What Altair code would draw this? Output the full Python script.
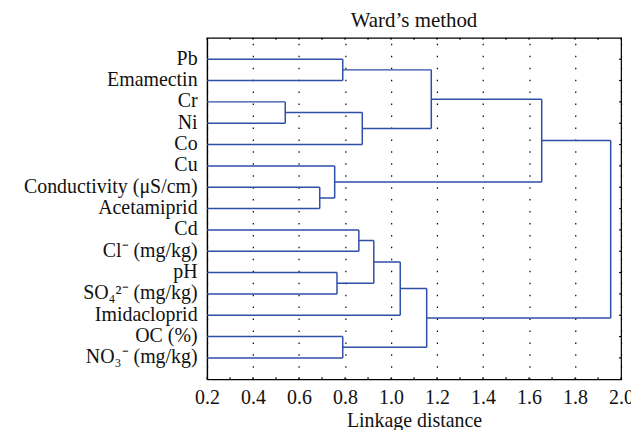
import altair as alt
import pandas as pd

# ---- data ----
leaves = ["Pb", "Emamectin", "Cr", "Ni", "Co", "Cu", "Conductivity (\u03bcS/cm)",
          "Acetamiprid", "Cd", "Cl\u207b (mg/kg)", "pH", "SO\u2084\u00b2\u207b (mg/kg)",
          "Imidacloprid", "OC (%)", "NO\u2083\u207b (mg/kg)"]
# merges: (left node, right node, linkage distance); leaves are 0..14, new clusters 15..
merge_left = [2, 6, 5, 10, 0, 13, 8, 15, 21, 23, 24, 19, 26, 27]
merge_right = [3, 7, 16, 11, 1, 14, 9, 4, 18, 12, 20, 22, 17, 25]
merge_height = [0.54, 0.69, 0.755, 0.765, 0.79, 0.79, 0.86, 0.875, 0.925, 1.04,
                1.155, 1.175, 1.655, 1.955]
x_ticks_major = [0.2, 0.4, 0.6, 0.8, 1.0, 1.2, 1.4, 1.6, 1.8, 2.0]
x_ticks_minor = [0.2, 0.3, 0.4, 0.5, 0.6, 0.7, 0.8, 0.9, 1.0, 1.1, 1.2, 1.3, 1.4,
                 1.5, 1.6, 1.7, 1.8, 1.9, 2.0]

# ---- build dendrogram segments ----
node_x = {i: 0.0 for i in range(len(leaves))}
node_y = {i: i + 1 for i in range(len(leaves))}
segs = []
for k, (a, b, h) in enumerate(zip(merge_left, merge_right, merge_height)):
    nid = len(leaves) + k
    for c in (a, b):
        segs.append({"x": node_x[c], "x2": h, "y": node_y[c], "y2": node_y[c]})
    segs.append({"x": h, "x2": h, "y": node_y[a], "y2": node_y[b]})
    node_x[nid] = h
    node_y[nid] = (node_y[a] + node_y[b]) / 2
seg_df = pd.DataFrame(segs)
minor_df = pd.DataFrame({"x": x_ticks_minor})
leaf_df = pd.DataFrame({"y": list(range(1, len(leaves) + 1))})

W, H = 416, 343
FONT = "Liberation Serif"
LINE = "#2f4ea8"

xscale = alt.Scale(domain=[0.2, 2.0], nice=False, zero=False)
yscale = alt.Scale(domain=[0, 16], reverse=True, nice=False, zero=False)

label_arr = "[" + ",".join(["''"] + ["'" + s + "'" for s in leaves]) + "]"

xaxis = alt.Axis(
    values=x_ticks_major, format=".1f", labelFont=FONT, labelFontSize=20,
    labelColor="#111", labelFlush=False, labelOverlap=False, ticks=False,
    labelPadding=8, grid=True, gridDash=[1.5, 10.5], gridColor="#000",
    gridWidth=1.2, domainColor="#000", domainWidth=1.2,
    title="Linkage distance", titleFont=FONT, titleFontSize=20,
    titleFontWeight="normal", titleColor="#111", titlePadding=3)
yaxis = alt.Axis(
    values=list(range(1, len(leaves) + 1)),
    labelExpr=label_arr + "[datum.value]", labelFont=FONT, labelFontSize=20,
    labelColor="#111", labelLimit=400, labelPadding=10, labelOffset=-1,
    ticks=False, grid=False, domainColor="#000", domainWidth=1.2, title=None,
    labelOverlap=False)

dendro = alt.Chart(seg_df).mark_rule(color=LINE, strokeWidth=1.5, clip=True).encode(
    x=alt.X("x:Q", scale=xscale, axis=xaxis),
    x2="x2:Q",
    y=alt.Y("y:Q", scale=yscale, axis=yaxis),
    y2="y2:Q",
)

top_ticks = alt.Chart(minor_df).mark_rule(color="#000", strokeWidth=1.2).encode(
    x=alt.X("x:Q", scale=xscale, axis=xaxis), y=alt.value(0), y2=alt.value(2))
bot_ticks = alt.Chart(minor_df).mark_rule(color="#000", strokeWidth=1.2).encode(
    x=alt.X("x:Q", scale=xscale, axis=xaxis), y=alt.value(H - 2), y2=alt.value(H))
right_ticks = alt.Chart(leaf_df).mark_rule(color="#000", strokeWidth=1.2).encode(
    y=alt.Y("y:Q", scale=yscale, axis=yaxis), x=alt.value(W - 2), x2=alt.value(W))

chart = alt.layer(dendro, top_ticks, bot_ticks, right_ticks).properties(
    width=W, height=H,
    title=alt.TitleParams("Ward\u2019s method", font=FONT, fontSize=21,
                          fontWeight="normal", color="#111", anchor="middle",
                          offset=6),
    autosize=alt.AutoSizeParams(type="none"),
    padding={"left": 200, "top": 29, "right": 10, "bottom": 50},
    background="white",
).configure_view(stroke="#000", strokeWidth=1.2)

chart.save("out.html", embed_options={"renderer": "svg", "actions": False})
